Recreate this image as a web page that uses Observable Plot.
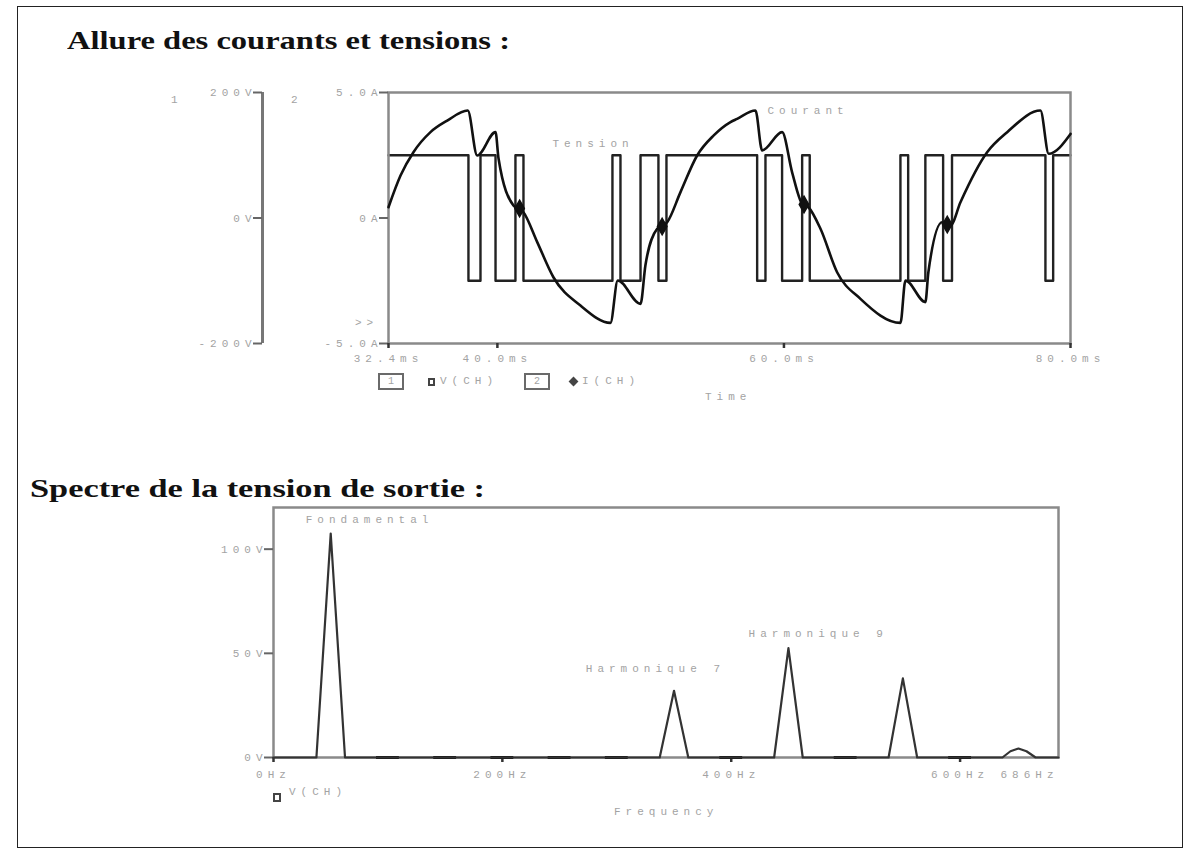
<!DOCTYPE html>
<html>
<head>
<meta charset="utf-8">
<script src="https://cdn.jsdelivr.net/npm/d3@7"></script>
<script src="https://cdn.jsdelivr.net/npm/@observablehq/plot@0.6"></script>
<style>
  body { margin: 0; background: #fff; }
  #page { position: relative; width: 1189px; height: 854px; overflow: hidden; background: #fff; }
  #border { position: absolute; left: 17px; top: 6px; width: 1166px; height: 842px; border: 1.5px solid #222; box-sizing: border-box; }
  .title { position: absolute; font-family: "Liberation Serif", "Times New Roman", serif; font-weight: bold; font-size: 25px; line-height: 1; transform-origin: left top; white-space: nowrap; color: #111; }
  .lbl { position: absolute; font-family: "Liberation Mono", monospace; font-size: 11px; line-height: 12px; letter-spacing: 5px; color: #a3a3a3; white-space: nowrap; }
  #page svg text { letter-spacing: 5px; }
  .box { position: absolute; border: 2px solid #6a6a6a; box-sizing: border-box; font-family: "Liberation Mono", monospace; font-size: 10px; color: #a3a3a3; text-align: center; line-height: 13px; }
</style>
</head>
<body>
<div id="page"><div id="border"></div></div>
<script>
// ---------- DATA ----------
// Top chart: current I(CH), time in ms, current in A
const timeMs   = [32.4, 33.24, 34.14, 35.33, 36.50, 37.93, 38.59, 39.87, 40.08, 41.12, 41.82, 42.78, 43.91, 45.80, 47.89, 48.40, 49.99, 50.33, 51.15, 51.85, 52.78, 53.94, 55.10, 56.27, 56.73, 58.01, 58.48, 59.87, 60.57, 61.27, 61.71, 62.55, 63.71, 65.34, 68.13, 68.48, 69.87, 70.08, 71.04, 71.62, 72.32, 74.18, 75.58, 77.90, 78.48, 80.0];
const currentA = [0.43, 1.69, 2.62, 3.42, 3.88, 4.28, 2.49, 3.42, 2.37, 0.50, 0.23, -0.96, -2.36, -3.49, -4.18, -2.49, -3.42, -1.89, -0.43, -0.17, 1.03, 2.49, 3.29, 3.82, 3.95, 4.28, 2.69, 3.42, 1.82, 0.57, 0.43, -0.43, -2.16, -3.22, -4.18, -2.49, -3.35, -2.16, -0.17, -0.30, 0.63, 2.62, 3.42, 4.28, 2.56, 3.35];
// Trace markers on I(CH)
const markerTimesMs = [41.55, 51.5, 61.4, 71.4];
const markerCurrentA = [0.38, -0.34, 0.54, -0.26];
// Voltage V(CH): switching instants (ms) and level after each instant (V)
const switchTimesMs = [32.4, 37.98, 38.82, 39.87, 41.26, 41.82, 48.03, 48.59, 49.99, 51.24, 51.80, 58.13, 58.71, 59.87, 61.27, 61.80, 68.13, 68.67, 69.87, 71.11, 71.73, 78.25, 78.79, 80.0];
const voltageLevelsV = [100, -100, 100, -100, 100, -100, 100, -100, 100, -100, 100, -100, 100, -100, 100, -100, 100, -100, 100, -100, 100, -100, 100, 100];
const timeTicks = [32.4, 40, 60, 80];
const currentTicks = [-5, 0, 5];
const voltageTicks = [-200, 0, 200];
const topNoteLabels = ["Tension", "Courant"];
const topNoteTimes = [43.84, 58.85];
const topNoteCurrents = [2.97, 4.28];

// Bottom chart: spectrum of V(CH)
const freqHz     = [0, 37.5, 50, 62.5, 337.5, 350, 362.5, 437.5, 450, 462.5, 537.5, 550, 562.5, 637, 644, 651, 658, 666, 686];
const spectrumV  = [0, 0, 107.5, 0, 0, 32, 0, 0, 52.5, 0, 0, 38, 0, 0, 3, 4.3, 3, 0, 0];
const residualHz = [100, 150, 200, 250, 300, 400, 500, 600];
const freqTicks = [0, 200, 400, 600];
const freqEndTick = [686];
const spectrumTicks = [0, 50, 100];
const specNoteLabels = ["Fondamental", "Harmonique 7", "Harmonique 9"];
const specNoteFreqs = [28.2, 272.9, 415.2];
const specNoteVolts = [114.4, 42.8, 59.6];

// ---------- BUILD ----------
const page = document.getElementById("page");
function place(el, left, top) {
  el.style.position = "absolute";
  el.style.left = left + "px";
  el.style.top = top + "px";
  page.appendChild(el);
  return el;
}
function label(text, left, top, cls = "lbl") {
  const d = document.createElement("div");
  d.className = cls;
  d.textContent = text;
  return place(d, left, top);
}
const grey = "#a3a3a3";
const sty = {background: "transparent", color: grey, fontFamily: "'Liberation Mono', monospace", fontSize: "11px", overflow: "visible"};

const currentData = timeMs.map((t, i) => ({t, a: currentA[i]}));
const markerData = markerTimesMs.map((t, i) => ({t, a: markerCurrentA[i]}));
const voltData = switchTimesMs.map((t, i) => ({t, v: voltageLevelsV[i]}));
const topNotes = topNoteLabels.map((l, i) => ({label: l, t: topNoteTimes[i], a: topNoteCurrents[i]}));
const specData = freqHz.map((f, i) => ({f, v: spectrumV[i]}));
const specNotes = specNoteLabels.map((l, i) => ({label: l, f: specNoteFreqs[i], v: specNoteVolts[i]}));

const topGeom = {width: 1189, height: 420, marginLeft: 388, marginRight: 119, marginTop: 92, marginBottom: 77};

// Voltage trace overlay (own scale, -200..200 V)
const plotV = Plot.plot({
  ...topGeom,
  style: sty,
  x: {domain: [32.4, 80], axis: null},
  y: {domain: [-200, 200], axis: null},
  marks: [
    Plot.line(voltData, {x: "t", y: "v", curve: "step-after", stroke: "#222", strokeWidth: 2.4})
  ]
});
place(plotV, 0, 0);

// Current chart
const plotA = Plot.plot({
  ...topGeom,
  style: sty,
  x: {domain: [32.4, 80]},
  y: {domain: [-5, 5]},
  marks: [
    Plot.frame({stroke: "#8a8a8a", strokeWidth: 2.5}),
    Plot.axisY({ticks: currentTicks, tickFormat: d => d === 0 ? "0A" : d.toFixed(1) + "A", tickSize: 9, tickPadding: -3, stroke: "#666", strokeWidth: 2, fill: grey, label: null}),
    Plot.axisX({ticks: timeTicks, tickFormat: d => d.toFixed(1) + "ms", tickSize: 5, tickPadding: 6, stroke: "#333", strokeWidth: 2.5, fill: grey, label: null}),
    Plot.line(currentData, {x: "t", y: "a", curve: "monotone-x", stroke: "#111", strokeWidth: 2.6}),
    Plot.dot(markerData, {x: "t", y: "a", symbol: "diamond", r: 5, fill: "#111", stroke: "#111"}),
    Plot.text(topNotes, {x: "t", y: "a", text: "label", textAnchor: "start", fill: grey})
  ]
});
place(plotA, 0, 0);

// Voltage axis (separate left axis)
const plotVAxis = Plot.plot({
  width: 270, height: 420, marginLeft: 262, marginRight: 0, marginTop: 92, marginBottom: 77,
  style: sty,
  x: {domain: [0, 1], axis: null},
  y: {domain: [-200, 200]},
  marks: [
    Plot.ruleX([0], {stroke: "#777", strokeWidth: 3}),
    Plot.axisY({ticks: voltageTicks, tickFormat: d => d + "V", tickSize: 9, tickPadding: -3, stroke: "#666", strokeWidth: 2, fill: grey, label: null})
  ]
});
place(plotVAxis, 0, 0);

// Spectrum chart
const plotS = Plot.plot({
  width: 1189, height: 380, marginLeft: 273, marginRight: 131, marginTop: 87, marginBottom: 43,
  style: sty,
  x: {domain: [0, 686]},
  y: {domain: [0, 120]},
  marks: [
    Plot.frame({stroke: "#8a8a8a", strokeWidth: 2.5}),
    Plot.axisY({ticks: spectrumTicks, tickFormat: d => d + "V", tickSize: 9, tickPadding: -3, stroke: "#666", strokeWidth: 2, fill: grey, label: null}),
    Plot.axisX({ticks: freqTicks, tickFormat: d => d + "Hz", tickSize: 5, tickPadding: 8, stroke: "#333", strokeWidth: 2.5, fill: grey, label: null}),
    Plot.axisX({ticks: freqEndTick, tickFormat: d => d + "Hz", tickSize: 0, tickPadding: 13, textAnchor: "end", fill: grey, label: null}),
    Plot.ruleY(residualHz, {y: () => 0, x1: f => f - 10, x2: f => f + 10, stroke: "#111", strokeWidth: 3}),
    Plot.line(specData, {x: "f", y: "v", stroke: "#333", strokeWidth: 2.2}),
    Plot.text(specNotes, {x: "f", y: "v", text: "label", textAnchor: "start", fill: grey})
  ]
});
place(plotS, 0, 420);

// Titles
const t1 = label("Allure des courants et tensions :", 67, 28, "title");
const t2 = label("Spectre de la tension de sortie :", 30, 476, "title");
function fitTitle(el, target) {
  const w = el.getBoundingClientRect().width;
  el.style.transform = "scaleX(" + (target / w) + ")";
}
fitTitle(t1, 443);
fitTitle(t2, 455);

// Small texts of the top chart
label("1", 171, 94);
label("2", 291, 94);
label(">>", 355, 317);

// Top legend
const b1 = document.createElement("div"); b1.className = "box"; b1.textContent = "1";
b1.style.width = "26px"; b1.style.height = "17px"; place(b1, 378, 373);
const sq1 = document.createElement("div");
sq1.style.width = "7px"; sq1.style.height = "8px"; sq1.style.border = "2px solid #444"; sq1.style.boxSizing = "border-box";
place(sq1, 428, 378);
label("V(CH)", 440, 375);
const b2 = document.createElement("div"); b2.className = "box"; b2.textContent = "2";
b2.style.width = "26px"; b2.style.height = "17px"; place(b2, 524, 373);
const dm = document.createElement("div");
dm.style.width = "7px"; dm.style.height = "7px"; dm.style.background = "#444"; dm.style.transform = "rotate(45deg)";
place(dm, 570, 378);
label("I(CH)", 582, 375);
label("Time", 705, 391);

// Bottom legend
const sq2 = document.createElement("div");
sq2.style.width = "8px"; sq2.style.height = "9px"; sq2.style.border = "2px solid #444"; sq2.style.boxSizing = "border-box";
place(sq2, 273, 793);
label("V(CH)", 289, 786);
label("Frequency", 614, 806);
</script>
</body>
</html>
